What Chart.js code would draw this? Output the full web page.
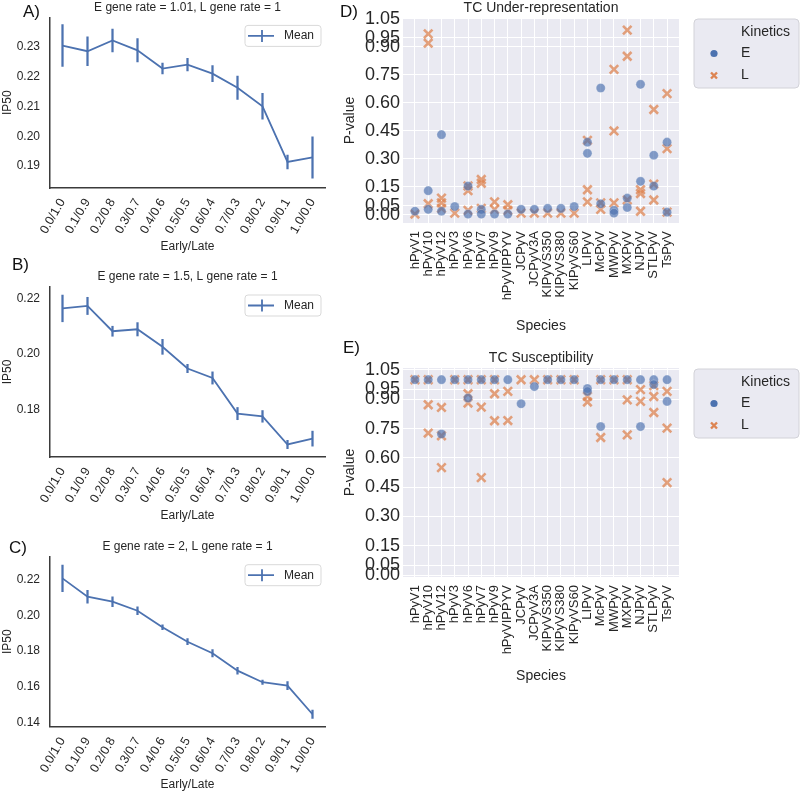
<!DOCTYPE html>
<html>
<head>
<meta charset="utf-8">
<script src="https://cdn.jsdelivr.net/npm/chart.js@4.4.1/dist/chart.umd.min.js"></script>
<style>
  body { margin: 0; background: #fff; width: 800px; height: 794px; position: relative; overflow: hidden; }
  .panel { position: absolute; }
</style>
</head>
<body>
<div class="panel" style="left:0;top:0;width:345px;height:260px"><canvas id="chartA"></canvas></div>
<div class="panel" style="left:0;top:258px;width:345px;height:271px"><canvas id="chartB"></canvas></div>
<div class="panel" style="left:0;top:536px;width:345px;height:258px"><canvas id="chartC"></canvas></div>
<div class="panel" style="left:335px;top:0;width:465px;height:335px"><canvas id="chartD"></canvas></div>
<div class="panel" style="left:335px;top:335px;width:465px;height:350px"><canvas id="chartE"></canvas></div>
<script>
// ---- data ----
const ratioLabels = ['0.0/1.0', '0.1/0.9', '0.2/0.8', '0.3/0.7', '0.4/0.6', '0.5/0.5', '0.6/0.4', '0.7/0.3', '0.8/0.2', '0.9/0.1', '1.0/0.0'];

const meanA = [0.2303, 0.2284, 0.2320, 0.2287, 0.2226, 0.2239, 0.2209, 0.2162, 0.2100, 0.1914, 0.1929];
const errA  = [0.0070, 0.0048, 0.0038, 0.0039, 0.0018, 0.0021, 0.0027, 0.0039, 0.0043, 0.0023, 0.0069];
const ticksA = [0.19, 0.20, 0.21, 0.22, 0.23];

const meanB = [0.2164, 0.2173, 0.2082, 0.2089, 0.2026, 0.1948, 0.1914, 0.1786, 0.1776, 0.1675, 0.1696];
const errB  = [0.0048, 0.0031, 0.0018, 0.0024, 0.0027, 0.0015, 0.0022, 0.0022, 0.0021, 0.0015, 0.0027];
const ticksB = [0.18, 0.20, 0.22];

const meanC = [0.2209, 0.2106, 0.2078, 0.2027, 0.1934, 0.1853, 0.1788, 0.1690, 0.1625, 0.1606, 0.1445];
const errC  = [0.0075, 0.0036, 0.0028, 0.0022, 0.0014, 0.0017, 0.0020, 0.0019, 0.0012, 0.0023, 0.0023];
const ticksC = [0.14, 0.16, 0.18, 0.20, 0.22];

const species = ['hPyV1', 'hPyV10', 'hPyV12', 'hPyV3', 'hPyV6', 'hPyV7', 'hPyV9', 'hPyVIPPYV', 'JCPyV', 'JCPyV3A',
                 'KIPyVS350', 'KIPyVS380', 'KIPyVS60', 'LIPyV', 'McPyV', 'MWPyV', 'MXPyV', 'NJPyV', 'STLPyV', 'TsPyV'];
const pTicks = [0, 0.05, 0.15, 0.30, 0.45, 0.60, 0.75, 0.90, 0.95, 1.05];

// TC Under-representation, p-values per species
const underE = [[0.02], [0.13, 0.03], [0.43, 0.02], [0.045], [0.155, 0.005], [0.03, 0.005], [0.005], [0.005], [0.03], [0.03],
                [0.035], [0.035], [0.045], [0.39, 0.33], [0.68, 0.06], [0.025, 0.01], [0.09, 0.04], [0.70, 0.18], [0.32, 0.155], [0.39, 0.015]];
const underL = [[0.005], [0.97, 0.92, 0.06], [0.09, 0.065, 0.035], [0.01], [0.155, 0.13, 0.025], [0.19, 0.17, 0.035], [0.07, 0.03], [0.055, 0.025], [0.01], [0.01],
                [0.01], [0.01], [0.01], [0.40, 0.135, 0.07], [0.065, 0.03], [0.78, 0.45, 0.065], [0.99, 0.85, 0.08], [0.135, 0.115, 0.02], [0.565, 0.165, 0.08], [0.65, 0.355, 0.015]];

// TC Susceptibility, p-values per species
const suscE = [[1.0], [1.0], [1.0, 0.722], [1.0], [1.0, 0.906], [1.0], [1.0], [1.0], [0.877], [0.965],
               [1.0], [1.0], [1.0], [0.955, 0.94], [1.0, 0.76], [1.0], [1.0], [1.0, 0.76], [1.0, 0.975], [1.0, 0.889]];
const suscL = [[1.0], [1.0, 0.872, 0.727], [0.858, 0.713, 0.55], [1.0], [1.0, 0.928, 0.881], [1.0, 0.86, 0.499], [1.0, 0.928, 0.79], [0.94, 0.791], [1.0], [1.0],
               [1.0], [1.0], [1.0], [0.915, 0.886], [1.0, 0.704], [1.0], [1.0, 0.897, 0.718], [0.949, 0.889], [0.97, 0.914, 0.832], [0.94, 0.752, 0.473]];

// ---- style ----
const FONT = "Arial, 'Liberation Sans', sans-serif";
const BLUE = '#4c72b0';
const SPINE = '#3b3b3b';
const E_COLOR = 'rgba(76,114,176,0.68)';
const L_COLOR = 'rgba(221,132,82,0.75)';

Chart.defaults.font.family = FONT;
Chart.defaults.color = '#262626';
Chart.defaults.animation = false;

// panel letter (A), B) ...)
const panelText = {
    id: 'panelText',
    afterDraw(chart, args, o) {
        if (!o.letter) return;
        const ctx = chart.ctx;
        ctx.save();
        ctx.font = '17px ' + FONT;
        ctx.fillStyle = '#111';
        ctx.textBaseline = 'middle';
        ctx.fillText(o.letter, o.x, o.y);
        ctx.restore();
    }
};

// seaborn darkgrid background
const darkGrid = {
    id: 'darkGrid',
    beforeDraw(chart) {
        const { ctx, chartArea: a } = chart;
        ctx.save();
        ctx.fillStyle = '#eaeaf2';
        ctx.fillRect(a.left, a.top, a.right - a.left, a.bottom - a.top);
        ctx.restore();
    }
};

// "Mean" legend with errorbar glyph
const meanLegend = {
    id: 'meanLegend',
    afterDraw(chart) {
        const { ctx, chartArea: a } = chart;
        const w = 76, h = 21, x = a.right - w - 4, y = a.top + 8, cy = y + h / 2;
        ctx.save();
        ctx.beginPath();
        ctx.roundRect(x, y, w, h, 3);
        ctx.fillStyle = 'rgba(255,255,255,0.85)';
        ctx.fill();
        ctx.strokeStyle = '#d9d9d9';
        ctx.lineWidth = 1;
        ctx.stroke();
        ctx.strokeStyle = BLUE;
        ctx.lineWidth = 1.8;
        ctx.beginPath();
        ctx.moveTo(x + 3, cy); ctx.lineTo(x + 29, cy);
        ctx.moveTo(x + 17, cy - 6); ctx.lineTo(x + 17, cy + 6);
        ctx.stroke();
        ctx.fillStyle = '#262626';
        ctx.font = '12px ' + FONT;
        ctx.textBaseline = 'middle';
        ctx.fillText(chart.data.datasets[0].label, x + 39, cy);
        ctx.restore();
    }
};

// "Kinetics" legend box on the right
const kineticsLegend = {
    id: 'kineticsLegend',
    afterDraw(chart) {
        const { ctx, chartArea: a } = chart;
        const x = a.right + 15, y = a.top + 1, w = 105, h = 69;
        ctx.save();
        ctx.beginPath();
        ctx.roundRect(x, y, w, h, 4);
        ctx.fillStyle = '#eaeaf2';
        ctx.fill();
        ctx.strokeStyle = '#d2d2d8';
        ctx.lineWidth = 1;
        ctx.stroke();
        ctx.fillStyle = '#262626';
        ctx.font = '14px ' + FONT;
        ctx.textBaseline = 'middle';
        ctx.fillText('Kinetics', x + 47, y + 13);
        const ds = chart.data.datasets;
        ctx.fillText(ds[0].label, x + 47, y + 34.5);
        ctx.fillText(ds[1].label, x + 47, y + 56.5);
        ctx.fillStyle = BLUE;
        ctx.beginPath();
        ctx.arc(x + 20, y + 34.5, 3.6, 0, Math.PI * 2);
        ctx.fill();
        ctx.strokeStyle = '#dd8452';
        ctx.lineWidth = 2.4;
        ctx.beginPath();
        ctx.moveTo(x + 17, y + 53.5); ctx.lineTo(x + 23, y + 59.5);
        ctx.moveTo(x + 23, y + 53.5); ctx.lineTo(x + 17, y + 59.5);
        ctx.stroke();
        ctx.restore();
    }
};

// ---- A, B, C: IP50 vs Early/Late ----
function initRateChart(id, cfg) {
    new Chart(document.getElementById(id), {
        type: 'bar',
        data: {
            labels: ratioLabels,
            datasets: [{
                type: 'line', label: 'Mean', data: cfg.mean,
                borderColor: BLUE, borderWidth: 1.8, pointRadius: 0, tension: 0,
            }, {
                type: 'bar', label: 'err',
                data: cfg.mean.map((m, i) => [m - cfg.err[i], m + cfg.err[i]]),
                backgroundColor: BLUE, barThickness: 1.6, borderWidth: 0,
            }]
        },
        options: {
            responsive: true, maintainAspectRatio: false,
            layout: { padding: { top: cfg.padTop, right: 20 } },
            plugins: {
                legend: { display: false },
                tooltip: { enabled: false },
                title: { display: true, fullSize: false, text: cfg.title, color: '#262626',
                         font: { size: 12, weight: 'normal' }, padding: { top: 0, bottom: 3 } },
                panelText: { letter: cfg.letter, x: cfg.letterX, y: cfg.letterY },
            },
            scales: {
                x: {
                    grid: { display: false, drawTicks: false },
                    border: { display: true, color: SPINE, width: 1.5 },
                    ticks: { minRotation: 60, maxRotation: 60, padding: 8, autoSkip: false, font: { size: 12.5 } },
                    title: { display: true, text: 'Early/Late', font: { size: 12 }, padding: { top: 0, bottom: cfg.titlePad } },
                    afterFit: s => { s.height = cfg.xHeight; },
                },
                y: {
                    min: cfg.yMin, max: cfg.yMax,
                    grid: { display: false, drawTicks: false },
                    border: { display: true, color: SPINE, width: 1.5 },
                    ticks: { padding: 10, autoSkip: false, font: { size: 12 }, callback: v => v.toFixed(2) },
                    afterBuildTicks: s => { s.ticks = cfg.ticks.map(v => ({ value: v })); },
                    title: { display: true, text: 'IP50', font: { size: 12 }, padding: { top: 0, bottom: 0 } },
                    afterFit: s => { s.width = 50; },
                }
            }
        },
        plugins: [panelText, meanLegend]
    });
}

// ---- D, E: p-value scatter by species ----
function toPoints(groups) {
    return groups.flatMap((vals, i) => vals.map(v => ({ x: i, y: v })));
}

function initPChart(id, cfg) {
    new Chart(document.getElementById(id), {
        type: 'scatter',
        data: {
            datasets: [{
                label: 'E', data: toPoints(cfg.e),
                pointStyle: 'circle', pointRadius: 4.6,
                backgroundColor: E_COLOR, borderColor: 'rgba(255,255,255,0.5)', borderWidth: 0.5,
            }, {
                label: 'L', data: toPoints(cfg.l),
                pointStyle: 'crossRot', pointRadius: 6,
                borderColor: L_COLOR, borderWidth: 2.6,
            }]
        },
        options: {
            responsive: true, maintainAspectRatio: false,
            layout: { padding: { top: cfg.padTop, right: 121 } },
            plugins: {
                legend: { display: false },
                tooltip: { enabled: false },
                title: { display: true, fullSize: false, text: cfg.title, color: '#262626',
                         font: { size: 14, weight: 'normal' }, padding: { top: 0, bottom: 1.2 } },
                panelText: { letter: cfg.letter, x: cfg.letterX, y: cfg.letterY },
            },
            scales: {
                x: {
                    type: 'linear', min: -0.9, max: 19.9,
                    grid: { color: '#ffffff', lineWidth: 1, drawTicks: false },
                    border: { display: false },
                    afterBuildTicks: s => { s.ticks = species.map((_, i) => ({ value: i })); },
                    ticks: { autoSkip: false, minRotation: 90, maxRotation: 90, padding: 8, font: { size: 13 },
                             callback: v => species[v] },
                    title: { display: true, text: 'Species', font: { size: 14 }, padding: { top: 0, bottom: 0 } },
                    afterFit: s => { s.height = cfg.xHeight; },
                },
                y: {
                    min: cfg.yMin, max: cfg.yMax,
                    grid: { color: '#ffffff', lineWidth: 1, drawTicks: false },
                    border: { display: false },
                    afterBuildTicks: s => { s.ticks = pTicks.map(v => ({ value: v })); },
                    ticks: { autoSkip: false, padding: 3, font: { size: 18 }, callback: v => v.toFixed(2) },
                    title: { display: true, text: 'P-value', font: { size: 14 }, padding: { top: 6.6, bottom: 0 } },
                    afterFit: s => { s.width = 68; },
                }
            }
        },
        plugins: [darkGrid, panelText, kineticsLegend]
    });
}

initRateChart('chartA', { title: 'E gene rate = 1.01, L gene rate = 1', letter: 'A)', letterX: 23, letterY: 12,
    mean: meanA, err: errA, ticks: ticksA, yMin: 0.1827, yMax: 0.2397, padTop: 0, xHeight: 72, titlePad: 5.8 });
initRateChart('chartB', { title: 'E gene rate = 1.5, L gene rate = 1', letter: 'B)', letterX: 12, letterY: 7,
    mean: meanB, err: errB, ticks: ticksB, yMin: 0.163, yMax: 0.2241, padTop: 11.6, xHeight: 72, titlePad: 5.8 });
initRateChart('chartC', { title: 'E gene rate = 2, L gene rate = 1', letter: 'C)', letterX: 9, letterY: 12,
    mean: meanC, err: errC, ticks: ticksC, yMin: 0.1375, yMax: 0.2331, padTop: 3.3, xHeight: 67.3, titlePad: 2 });

initPChart('chartD', { title: 'TC Under-representation', letter: 'D)', letterX: 5, letterY: 12,
    e: underE, l: underL, yMin: -0.043, yMax: 1.055, padTop: 0, xHeight: 112 });
initPChart('chartE', { title: 'TC Susceptibility', letter: 'E)', letterX: 8, letterY: 13,
    e: suscE, l: suscL, yMin: -0.01, yMax: 1.06, padTop: 15, xHeight: 108 });
</script>
</body>
</html>
